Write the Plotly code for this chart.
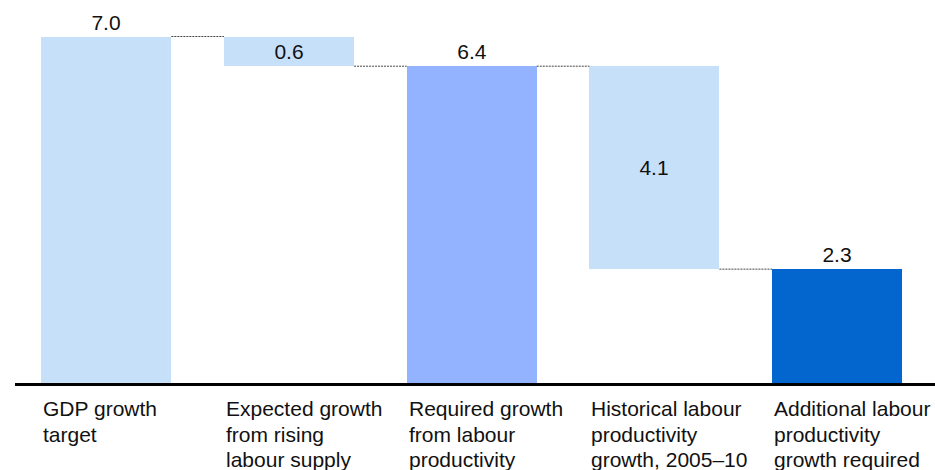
import plotly.graph_objects as go

categories = ["GDP growth<br>target",
              "Expected growth<br>from rising<br>labour supply",
              "Required growth<br>from labour<br>productivity",
              "Historical labour<br>productivity<br>growth, 2005–10",
              "Additional labour<br>productivity<br>growth required"]
values = [7.0, -0.6, 6.4, -4.1, 2.3]
measures = ["total", "relative", "total", "relative", "total"]
labels = ["7.0", "0.6", "6.4", "4.1", "2.3"]
colors = ["#C7E0FA", "#C7E0FA", "#93B2FF", "#C7E0FA", "#0366CF"]

BAR_W = 0.712
FONT = "Liberation Sans, Arial, sans-serif"
LINE_H = 25.7

# compute bases / heights from the values
bases, heights, levels = [], [], []
running = 0.0
for v, m in zip(values, measures):
    if m == "total":
        bases.append(0.0)
        heights.append(v)
        running = v
    else:
        new = running + v
        bases.append(min(running, new))
        heights.append(abs(v))
        running = new
    levels.append(running)

xs = list(range(len(values)))
textpos = ["outside" if m == "total" else "inside" for m in measures]

fig = go.Figure()
fig.add_trace(go.Bar(
    x=xs, y=heights, base=bases, width=BAR_W,
    marker=dict(color=colors, line=dict(width=0)),
    text=labels, textposition=textpos, insidetextanchor="middle",
    constraintext="none", cliponaxis=False,
    textfont=dict(family=FONT, size=21, color="#111111"),
    hoverinfo="skip",
))

shapes = []
for i in range(len(values) - 1):
    shapes.append(dict(
        type="line", xref="x", yref="y",
        x0=i + BAR_W / 2, x1=i + 1 - BAR_W / 2,
        y0=levels[i], y1=levels[i],
        line=dict(color="#444444", width=1, dash="2px,1px"),
    ))

annotations = []
for i, c in enumerate(categories):
    for k, line in enumerate(c.split("<br>")):
        annotations.append(dict(
            x=i - BAR_W / 2, y=0, xref="x", yref="y",
            xanchor="left", yanchor="top", align="left",
            text=line, showarrow=False, yshift=-12 - k * LINE_H,
            font=dict(family=FONT, size=21, color="#111111"),
        ))

fig.update_layout(
    width=935, height=470,
    margin=dict(l=15, r=0, t=10, b=87),
    paper_bgcolor="white", plot_bgcolor="white",
    showlegend=False, bargap=0,
    shapes=shapes, annotations=annotations,
    xaxis=dict(range=[-0.5, 4.536], showticklabels=False, ticks="",
               showgrid=False, zeroline=False, showline=True,
               linecolor="black", linewidth=2.5, fixedrange=True),
    yaxis=dict(range=[0, 373 / 49.5], visible=False, showgrid=False,
               zeroline=False, fixedrange=True),
)

fig.write_html("out.html")
